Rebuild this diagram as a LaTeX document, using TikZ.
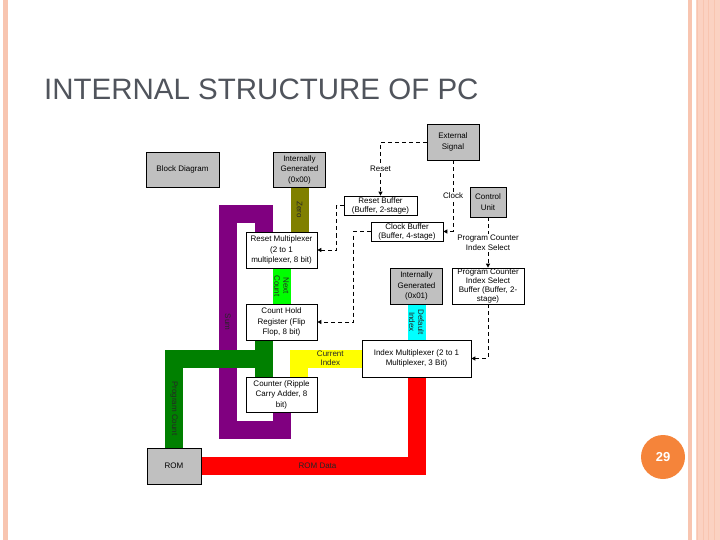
\documentclass[tikz,border=0pt]{standalone}
\usepackage{fontspec}
\setmainfont{Liberation Sans}
\usetikzlibrary{arrows.meta,backgrounds,calc}
\definecolor{boxgray}{HTML}{C0C0C0}
\definecolor{zerocol}{HTML}{808000}
\definecolor{sumcol}{HTML}{800080}
\definecolor{nextcol}{HTML}{00FF00}
\definecolor{pccol}{HTML}{008000}
\definecolor{curcol}{HTML}{FFFF00}
\definecolor{defcol}{HTML}{00FFFF}
\definecolor{romcol}{HTML}{FF0000}
\definecolor{titlegray}{HTML}{50545C}
\definecolor{stripe}{HTML}{F8C5B0}
\definecolor{stripepale}{HTML}{FBD2C2}
\definecolor{pgorange}{HTML}{F5843A}
\tikzset{
  blk/.style={draw, line width=0.7pt, fill=white, align=center, inner sep=0.5pt,
    font=\fontsize{8}{10.5}\selectfont},
  grayblk/.style={blk, fill=boxgray},
  bar/.style={line width=18pt, line join=miter},
  sig/.style={dash pattern=on 4pt off 3pt, line width=0.8pt, -{Triangle[length=4pt,width=4pt]}},
  barlabel/.style={font=\fontsize{8}{9}\selectfont, align=center, inner sep=0pt, text=black!85},
  siglabel/.style={font=\fontsize{8}{9.5}\selectfont, align=center, fill=white, inner sep=1pt}
}
\begin{document}
\begin{tikzpicture}[x=1pt,y=-1pt]
   \useasboundingbox (0,0) rectangle (720,540);
   % slide frame
   \fill[stripe] (3,0) rectangle (8,540);
   \fill[stripe] (688,0) rectangle (692,540);
   \fill[stripepale] (696,0) rectangle (720,540);
   \foreach \lx in {697,703,708,714} \draw[stripe, line width=1pt] (\lx,0) -- (\lx,540);
   \node[anchor=base west, inner sep=0, text=titlegray, font=\fontsize{29.5}{30}\selectfont] (title) at (44,100) {INTERNAL STRUCTURE OF PC};
   \node[circle, fill=pgorange, minimum size=44pt, inner sep=0, text=white, font=\fontsize{13}{13}\selectfont\bfseries] (pgnum) at (663,457) {29};
   % blocks
   \node[grayblk, minimum width=73pt, minimum height=35pt] (blkdiag) at (182.5,169.5) {Block Diagram};
   \node[grayblk, minimum width=52pt, minimum height=35pt] (gen0) at (299.5,169.5) {Internally\\Generated\\(0x00)};
   \node[grayblk, minimum width=52pt, minimum height=36pt] (ext) at (453,142) {External\\Signal};
   \node[grayblk, minimum width=36pt, minimum height=30pt] (cu) at (488,202) {Control\\Unit};
   \node[blk, minimum width=73pt, minimum height=19pt, inner sep=0pt, font=\fontsize{8}{9}\selectfont] (rbuf) at (380.5,205.5) {Reset Buffer\\(Buffer, 2-stage)};
   \node[blk, minimum width=72pt, minimum height=19pt, inner sep=0pt, font=\fontsize{8}{9}\selectfont] (cbuf) at (407,231.5) {Clock Buffer\\(Buffer, 4-stage)};
   \node[blk, minimum width=71pt, minimum height=36pt] (rmux) at (281.5,250) {Reset Multiplexer\\(2 to 1\\multiplexer, 8 bit)};
   \node[grayblk, minimum width=52pt, minimum height=36pt] (gen1) at (416.5,286) {Internally\\Generated\\(0x01)};
   \node[blk, minimum width=72pt, minimum height=36pt, inner sep=0pt, font=\fontsize{8}{8.8}\selectfont] (pcis) at (488,286) {Program Counter\\Index Select\\Buffer (Buffer, 2-\\stage)};
   \node[blk, minimum width=71pt, minimum height=36pt] (chr) at (281.5,322) {Count Hold\\Register (Flip\\Flop, 8 bit)};
   \node[blk, minimum width=109pt, minimum height=37pt] (imux) at (416.5,358.5) {Index Multiplexer (2 to 1\\Multiplexer, 3 Bit)};
   \node[blk, minimum width=71pt, minimum height=35pt] (cnt) at (281.5,394.5) {Counter (Ripple\\Carry Adder, 8\\bit)};
   \node[grayblk, minimum width=54pt, minimum height=36pt] (rom) at (174,466) {ROM};
   % data buses
   \begin{scope}[on background layer]
   \draw[bar, zerocol] (gen0.south) -- node[barlabel, rotate=-90] {Zero} (gen0.south |- rmux.north);
   \draw[bar, sumcol] (cnt.south) -- ++(0,18) -| node[pos=0.75, barlabel, rotate=-90] {Sum} (228,214) -| ([xshift=-17.5pt]rmux.north);
   \draw[bar, nextcol] (rmux.south) -- node[barlabel, rotate=-90] {Next\\Count} (chr.north);
   \coordinate (pcj) at ($(chr.south)!0.5!(cnt.north)+(-8.5,0)$);
   \draw[bar, pccol] ([xshift=-17.5pt]chr.south) -- ([xshift=-17.5pt]cnt.north);
   \draw[bar, pccol] (rom.north) |- node[pos=0.22, barlabel, rotate=-90] {Program Count} (pcj);
   \draw[bar, curcol] ([xshift=17.5pt]cnt.north) |- node[pos=0.75, barlabel] {Current\\Index} (imux.west);
   \draw[bar, defcol] (gen1.south) -- node[barlabel, rotate=-90] {Default\\Index} (imux.north);
   \draw[bar, romcol] (imux.south) |- node[pos=0.73, barlabel] {ROM Data} (rom.east);
   \end{scope}
   % control signals
   \draw[sig] (ext.west) -| node[pos=0.75, siglabel] {Reset} (rbuf.north);
   \draw[sig] (ext.south) |- node[pos=0.25, siglabel] {Clock} (cbuf.east);
   \draw[sig] (cu.south) -- node[siglabel] {Program Counter\\Index Select} (pcis.north);
   \draw[sig] (rbuf.west) -- ++(-7,0) |- (rmux.east);
   \draw[sig] (cbuf.west) -- ++(-17,0) |- (chr.east);
   \draw[sig] (pcis.south) |- (imux.east);
\end{tikzpicture}
\end{document}
